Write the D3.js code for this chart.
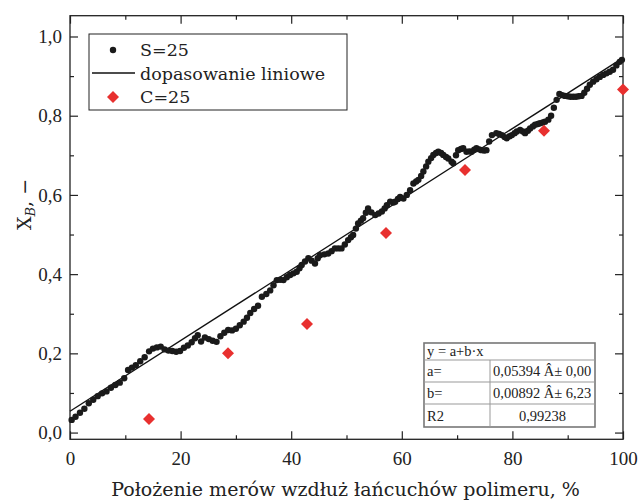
<!DOCTYPE html>
<html>
<head>
<meta charset="utf-8">
<title>S=25, C=25 - dopasowanie liniowe</title>
<style>
  body { margin: 0; padding: 0; background: #fff; }
  text { fill: #222; }
  .num { font-family: "Liberation Serif", serif; }
  .word { font-family: "DejaVu Serif", serif; }
</style>
</head>
<body>
<svg id="chart" width="638" height="500"></svg>
<script src="https://cdn.jsdelivr.net/npm/d3@7"></script>
<script>
// S=25 points
var sX = [0.3, 1.0, 1.8, 2.6, 3.4, 4.2, 5.0, 5.8, 6.6, 7.4, 8.2, 9.0, 9.8, 10.5, 11.2, 11.9, 12.7, 13.5, 14.3, 15.0,
  15.7, 16.4, 17.1, 17.8, 18.5, 19.2, 19.9, 20.6, 21.3, 22.0, 22.6, 23.1, 23.7, 24.4, 25.1, 25.8, 26.5, 27.2, 27.9, 28.6,
  29.3, 30.0, 30.7, 31.4, 32.0, 32.6, 33.3, 34.0, 34.7, 35.5, 36.2, 36.8, 37.4, 38.0, 38.6, 39.2, 39.8, 40.4, 41.0, 41.5,
  41.9, 42.5, 43.1, 43.7, 44.3, 44.8, 45.2, 46.0, 46.7, 47.3, 47.9, 48.5, 49.1, 49.7, 50.3, 50.8, 51.2, 51.7, 52.1, 52.6,
  53.0, 53.5, 53.9, 54.5, 55.2, 55.8, 56.4, 56.9, 57.3, 57.9, 58.5, 58.8, 59.3, 59.7, 60.3, 60.9, 61.5, 62.1, 62.6, 63.0,
  63.5, 63.9, 64.4, 64.8, 65.3, 65.7, 66.2, 66.6, 67.1, 67.5, 68.0, 68.4, 69.0, 69.3, 69.8, 70.2, 70.7, 71.1, 71.7, 72.2,
  72.6, 73.1, 73.5, 74.0, 74.4, 74.9, 75.3, 75.8, 76.3, 77.1, 77.6, 78.1, 78.6, 79.0, 79.5, 79.9, 80.4, 80.8, 81.4, 81.9,
  82.3, 82.8, 83.2, 83.7, 84.1, 84.6, 85.0, 85.5, 85.9, 86.5, 87.0, 87.5, 88.0, 88.5, 89.0, 89.5, 90.0, 90.5, 91.0, 91.5,
  92.0, 92.5, 93.0, 93.5, 94.0, 94.6, 95.2, 95.8, 96.4, 97.0, 97.6, 98.2, 98.8, 99.4, 99.8];
var sY = [0.032, 0.040, 0.050, 0.060, 0.074, 0.083, 0.092, 0.099, 0.104, 0.113, 0.120, 0.126, 0.137, 0.158, 0.164, 0.170, 0.180, 0.190, 0.205, 0.212,
  0.215, 0.217, 0.210, 0.207, 0.206, 0.204, 0.206, 0.214, 0.220, 0.228, 0.238, 0.246, 0.230, 0.240, 0.236, 0.232, 0.229, 0.243, 0.252, 0.259,
  0.258, 0.262, 0.271, 0.280, 0.290, 0.302, 0.312, 0.320, 0.343, 0.350, 0.359, 0.372, 0.385, 0.386, 0.385, 0.392, 0.398, 0.402, 0.406, 0.415,
  0.423, 0.432, 0.440, 0.434, 0.427, 0.440, 0.448, 0.450, 0.452, 0.458, 0.465, 0.465, 0.465, 0.475, 0.486, 0.493, 0.499, 0.515, 0.528, 0.535,
  0.541, 0.555, 0.566, 0.556, 0.549, 0.553, 0.558, 0.566, 0.574, 0.583, 0.581, 0.583, 0.590, 0.595, 0.591, 0.600, 0.612, 0.629, 0.634, 0.638,
  0.648, 0.659, 0.672, 0.684, 0.693, 0.701, 0.706, 0.709, 0.706, 0.701, 0.696, 0.692, 0.684, 0.680, 0.700, 0.713, 0.716, 0.718, 0.709, 0.710,
  0.709, 0.714, 0.718, 0.715, 0.713, 0.712, 0.713, 0.735, 0.751, 0.756, 0.754, 0.751, 0.746, 0.743, 0.748, 0.751, 0.756, 0.760, 0.764, 0.760,
  0.756, 0.762, 0.768, 0.773, 0.777, 0.779, 0.781, 0.783, 0.785, 0.790, 0.800, 0.820, 0.840, 0.855, 0.852, 0.850, 0.849, 0.848, 0.848, 0.848,
  0.849, 0.850, 0.858, 0.868, 0.878, 0.886, 0.892, 0.898, 0.903, 0.907, 0.911, 0.916, 0.927, 0.936, 0.941];

// C=25 points
var cX = [14.29, 28.57, 42.86, 57.14, 71.43, 85.71, 100];
var cY = [0.034, 0.200, 0.274, 0.504, 0.663, 0.762, 0.866];

// linear fit y = a + b*x
var fitA = 0.05394;
var fitB = 0.00892;

var xTicks = [0, 20, 40, 60, 80, 100];
var xMinor = [10, 30, 50, 70, 90];
var yTicks = [0, 0.2, 0.4, 0.6, 0.8, 1.0];
var yMinor = [0.1, 0.3, 0.5, 0.7, 0.9];

var legendLabels = ["S=25", "dopasowanie liniowe", "C=25"];
var tableTitle = "y = a+b\u00b7x";
var tableRows = [["a=", "0,05394 \u00c2\u00b1 0,00"], ["b=", "0,00892 \u00c2\u00b1 6,23"], ["R2", "0,99238"]];

var xLabel = "Po\u0142o\u017cenie mer\u00f3w wzd\u0142u\u017c \u0142a\u0144cuch\u00f3w polimeru, %";

var svg = d3.select("#chart");
var pLeft = 70, pRight = 623, pTop = 15.7, pBottom = 439.3;

var x = d3.scaleLinear().domain([0, 100]).range([pLeft, pRight]);
var y = d3.scaleLinear().domain([-0.017, 1.0525]).range([pBottom, pTop]);

var comma = d3.formatLocale({decimal: ",", thousands: " ", grouping: [3], currency: ["", ""]});
var fmt1 = comma.format(".1f");

// axes, ticks pointing inward
function drawAxis(axis, tx, ty) {
  var g = svg.append("g").attr("transform", "translate(" + tx + "," + ty + ")").call(axis);
  g.select(".domain").remove();
  g.selectAll("line").attr("stroke", "#222").attr("stroke-width", 1.2);
  g.selectAll("text").attr("class", "num").attr("font-size", 19).attr("fill", "#222");
  return g;
}

drawAxis(d3.axisBottom(x).tickValues(xTicks).tickSizeInner(-8).tickSizeOuter(0).tickPadding(12), 0, pBottom);
drawAxis(d3.axisBottom(x).tickValues(xMinor).tickSizeInner(-4).tickSizeOuter(0).tickFormat(""), 0, pBottom);
drawAxis(d3.axisTop(x).tickValues(xTicks).tickSizeInner(-8).tickSizeOuter(0).tickFormat(""), 0, pTop);
drawAxis(d3.axisTop(x).tickValues(xMinor).tickSizeInner(-4).tickSizeOuter(0).tickFormat(""), 0, pTop);
drawAxis(d3.axisLeft(y).tickValues(yTicks).tickSizeInner(-8).tickSizeOuter(0).tickPadding(8).tickFormat(fmt1), pLeft, 0);
drawAxis(d3.axisLeft(y).tickValues(yMinor).tickSizeInner(-4).tickSizeOuter(0).tickFormat(""), pLeft, 0);
drawAxis(d3.axisRight(y).tickValues(yTicks).tickSizeInner(-8).tickSizeOuter(0).tickFormat(""), pRight, 0);
drawAxis(d3.axisRight(y).tickValues(yMinor).tickSizeInner(-4).tickSizeOuter(0).tickFormat(""), pRight, 0);

svg.append("rect")
  .attr("x", pLeft).attr("y", pTop)
  .attr("width", pRight - pLeft).attr("height", pBottom - pTop)
  .attr("fill", "none").attr("stroke", "#222").attr("stroke-width", 1.3);

// fit line
svg.append("line")
  .attr("x1", x(0)).attr("y1", y(fitA))
  .attr("x2", x(100)).attr("y2", y(fitA + fitB * 100))
  .attr("stroke", "#111").attr("stroke-width", 1.3);

// S=25 dots
svg.append("g").selectAll("circle")
  .data(d3.range(sX.length))
  .enter().append("circle")
  .attr("cx", function (i) { return x(sX[i]); })
  .attr("cy", function (i) { return y(sY[i]); })
  .attr("r", 3.2)
  .attr("fill", "#1a1a1a");

// C=25 diamonds
var diamond = d3.symbol().type(d3.symbolSquare).size(72);
svg.append("g").selectAll("path")
  .data(d3.range(cX.length))
  .enter().append("path")
  .attr("d", diamond)
  .attr("transform", function (i) { return "translate(" + x(cX[i]) + "," + y(cY[i]) + ") rotate(45)"; })
  .attr("fill", "#e8302f");

// legend
var lg = svg.append("g");
lg.append("rect").attr("x", 89).attr("y", 34).attr("width", 258).attr("height", 76)
  .attr("fill", "#fff").attr("stroke", "#222").attr("stroke-width", 1);
lg.append("circle").attr("cx", 113).attr("cy", 50).attr("r", 3.2).attr("fill", "#1a1a1a");
lg.append("line").attr("x1", 92).attr("x2", 135).attr("y1", 73).attr("y2", 73)
  .attr("stroke", "#111").attr("stroke-width", 1.3);
lg.append("path").attr("d", diamond).attr("transform", "translate(113,97) rotate(45)").attr("fill", "#e8302f");
lg.selectAll("text.lab")
  .data(legendLabels)
  .enter().append("text")
  .attr("class", "word")
  .attr("x", 140)
  .attr("y", function (d, i) { return 56 + i * 23.5; })
  .attr("font-size", 17.5)
  .text(function (d) { return d; });

// fit table
var tb = svg.append("g");
var tX0 = 424, tX1 = 595, tCol = 490;
var rowY = [343, 360, 382, 404, 427];
tb.append("rect").attr("x", tX0).attr("y", rowY[0]).attr("width", tX1 - tX0).attr("height", rowY[4] - rowY[0])
  .attr("fill", "#fff").attr("stroke", "#777").attr("stroke-width", 1.6);
rowY.slice(1, 4).forEach(function (ry) {
  tb.append("line").attr("x1", tX0).attr("x2", tX1).attr("y1", ry).attr("y2", ry)
    .attr("stroke", "#999").attr("stroke-width", 1);
});
tb.append("line").attr("x1", tCol).attr("x2", tCol).attr("y1", rowY[1]).attr("y2", rowY[4])
  .attr("stroke", "#999").attr("stroke-width", 1);
tb.append("text").attr("class", "num").attr("x", tX0 + 3).attr("y", rowY[0] + 13)
  .attr("font-size", 14.5).text(tableTitle);
tableRows.forEach(function (r, i) {
  var base = (rowY[i + 1] + rowY[i + 2]) / 2 + 5;
  tb.append("text").attr("class", "num").attr("x", tX0 + 3).attr("y", base)
    .attr("font-size", 14.5).text(r[0]);
  var last = i === tableRows.length - 1;
  tb.append("text").attr("class", "num")
    .attr("x", last ? (tCol + tX1) / 2 : tCol + 3).attr("y", base)
    .attr("text-anchor", last ? "middle" : "start")
    .attr("font-size", 14.5).text(r[1]);
});

// axis titles
svg.append("text")
  .attr("class", "word")
  .attr("x", (pLeft + pRight) / 2 - 1)
  .attr("y", 496)
  .attr("text-anchor", "middle")
  .attr("font-size", 19)
  .text(xLabel);

var yt = svg.append("text")
  .attr("class", "word")
  .attr("transform", "translate(31,230) rotate(-90)")
  .attr("font-size", 19);
yt.append("tspan").text("X");
yt.append("tspan").attr("font-size", 13).attr("font-style", "italic").attr("dy", 4).text("B");
yt.append("tspan").attr("dy", -4).text(", \u2212");
</script>
</body>
</html>
